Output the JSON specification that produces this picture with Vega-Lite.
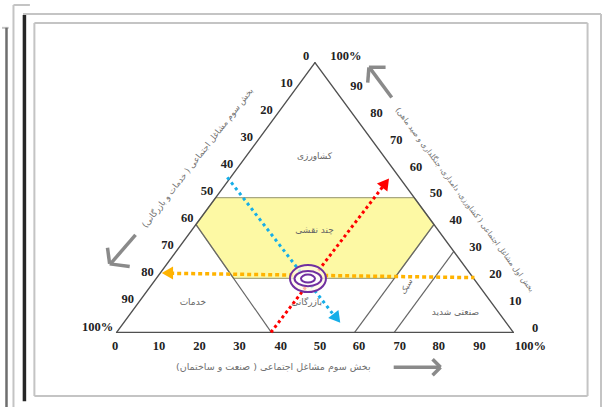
{
  "$schema": "https://vega.github.io/schema/vega-lite/v6.json",
  "width": 606,
  "height": 409,
  "autosize": {"type": "fit", "contains": "padding"},
  "padding": 0,
  "background": "white",
  "config": {"view": {"stroke": null}},
  "datasets": {
    "frameLight": [
      {"x": -23.6, "r": 118.08, "x2": 122.11, "r2": 118.08},
      {"x": 122.11, "r": 118.08, "x2": 122.11, "r2": -27.68},
      {"x": -20.73, "r": 114.76, "x2": 118.72, "r2": 114.76},
      {"x": -20.73, "r": 114.76, "x2": -20.73, "r2": -23.6},
      {"x": 118.72, "r": 114.76, "x2": 118.72, "r2": -23.6},
      {"x": -20.73, "r": -23.6, "x2": 118.72, "r2": -23.6},
      {"x": -26.0, "r": 121.4, "x2": -26.0, "r2": -27.68},
      {"x": -26.0, "r": 121.4, "x2": -21.86, "r2": 121.4},
      {"x": -28.9, "r": 112.92, "x2": -27.2, "r2": 112.92}
    ],
    "frameDark": [
      {"x": -23.24, "r": 117.71, "x2": -23.24, "r2": -25.5}
    ],
    "frameMid": [
      {"x": -27.76, "r": 112.92, "x2": -27.76, "r2": -27.68}
    ],
    "band": [
      {"r": 20, "x": 29.5, "x2": 70},
      {"r": 40, "x": 20, "x2": 80},
      {"r": 50, "x": 25, "x2": 75}
    ],
    "tri": [
      {"x": 0, "r": 0, "x2": 100, "r2": 0},
      {"x": 100, "r": 0, "x2": 50, "r2": 100},
      {"x": 50, "r": 100, "x2": 0, "r2": 0}
    ],
    "inner": [
      {"x": 39, "r": 0, "x2": 20, "r2": 40},
      {"x": 60, "r": 0, "x2": 80, "r2": 40},
      {"x": 70, "r": 0, "x2": 85, "r2": 30}
    ],
    "arrows": [
      {"x": 4.77, "r": 36.16, "x2": -1.5, "r2": 25.5},
      {"x": -1.76, "r": 25.4, "x2": 3.3, "r2": 24.4},
      {"x": -1.76, "r": 25.4, "x2": -2.3, "r2": 31.4},
      {"x": 69.35, "r": 87.08, "x2": 63.9, "r2": 97.9},
      {"x": 63.6, "r": 98.3, "x2": 67.8, "r2": 98.3},
      {"x": 63.6, "r": 98.3, "x2": 63.3, "r2": 92.6},
      {"x": 69.85, "r": -12.92, "x2": 81.66, "r2": -12.92},
      {"x": 81.66, "r": -12.92, "x2": 79.65, "r2": -9.96},
      {"x": 81.66, "r": -12.92, "x2": 79.65, "r2": -15.87}
    ],
    "ticks": [
      {"t": "0", "x": -0.4, "r": -5.17},
      {"t": "10", "x": 10.7, "r": -5.17},
      {"t": "20", "x": 20.9, "r": -5.17},
      {"t": "30", "x": 31.0, "r": -5.17},
      {"t": "40", "x": 41.4, "r": -5.17},
      {"t": "50", "x": 51.3, "r": -5.17},
      {"t": "60", "x": 61.1, "r": -5.17},
      {"t": "70", "x": 71.4, "r": -5.17},
      {"t": "80", "x": 81.2, "r": -5.17},
      {"t": "90", "x": 91.5, "r": -5.17},
      {"t": "100%", "x": 104.3, "r": -5.17},
      {"t": "0", "x": 105.5, "r": 1.5},
      {"t": "10", "x": 100.5, "r": 11.5},
      {"t": "20", "x": 95.5, "r": 21.5},
      {"t": "30", "x": 90.5, "r": 31.5},
      {"t": "40", "x": 85.5, "r": 41.5},
      {"t": "50", "x": 80.5, "r": 51.5},
      {"t": "60", "x": 75.5, "r": 61.5},
      {"t": "70", "x": 70.5, "r": 71.5},
      {"t": "80", "x": 65.5, "r": 81.5},
      {"t": "90", "x": 60.5, "r": 91.5},
      {"t": "100%", "x": 57.8, "r": 102.6},
      {"t": "0", "x": 47.8, "r": 102.3},
      {"t": "10", "x": 42.8, "r": 92.3},
      {"t": "20", "x": 37.8, "r": 82.3},
      {"t": "30", "x": 32.8, "r": 72.3},
      {"t": "40", "x": 27.8, "r": 62.3},
      {"t": "50", "x": 22.8, "r": 52.3},
      {"t": "60", "x": 17.8, "r": 42.3},
      {"t": "70", "x": 12.8, "r": 32.3},
      {"t": "80", "x": 7.8, "r": 22.3},
      {"t": "90", "x": 2.8, "r": 12.3},
      {"t": "100%", "x": -4.8, "r": 2.1}
    ],
    "regions": [
      {"t": "کشاورزی", "x": 49.9, "r": 65.4},
      {"t": "چند نقشی", "x": 49.9, "r": 37.8},
      {"t": "خدمات", "x": 19.2, "r": 11.3},
      {"t": "بازرگانی", "x": 47.9, "r": 11.1},
      {"t": "صنعتی شدید", "x": 85.4, "r": 7.6}
    ],
    "regionRot": [
      {"t": "سبک", "x": 73.2, "r": 16.9}
    ],
    "titleBottom": [
      {"t": "بخش سوم مشاغل اجتماعی ( صنعت و ساختمان)", "x": 39.5, "r": -12.9}
    ],
    "titleLeft": [
      {"t": "بخش سوم مشاغل اجتماعی ( خدمات و بازرگانی)", "x": 20.35, "r": 64.8}
    ],
    "titleRight": [
      {"t": "بخش اول مشاغل اجتماعی ( کشاورزی، دامداری، جنگلداری و صید ماهی)", "x": 87.7, "r": 49.1}
    ],
    "blue": [{"x": 27.9, "r": 57.5, "x2": 55.0, "r2": 5.9}],
    "red": [{"x": 38.9, "r": 0, "x2": 67.5, "r2": 54.8}],
    "orange": [{"x": 13.5, "r": 21.9, "x2": 90.2, "r2": 20.3}],
    "blueHead": [{"x": 55.5, "r": 5.2}],
    "redHead": [{"x": 67.8, "r": 55.4}],
    "orangeHead": [{"x": 12.8, "r": 22.0}],
    "center": [{"x": 48.24, "r": 19.93}]
  },
  "encoding": {
    "x": {"field": "x", "type": "quantitative", "scale": {"domain": [-28.894, 123.367], "nice": false, "zero": false}, "axis": null},
    "y": {"field": "r", "type": "quantitative", "scale": {"domain": [-27.675, 123.247], "nice": false, "zero": false}, "axis": null}
  },
  "layer": [
    {"data": {"name": "frameLight"}, "mark": {"type": "rule", "stroke": "#c4c4c4", "strokeWidth": 2}, "encoding": {"x2": {"field": "x2"}, "y2": {"field": "r2"}}},
    {"data": {"name": "frameMid"}, "mark": {"type": "rule", "stroke": "#6e6e6e", "strokeWidth": 2.5}, "encoding": {"x2": {"field": "x2"}, "y2": {"field": "r2"}}},
    {"data": {"name": "frameDark"}, "mark": {"type": "rule", "stroke": "#262626", "strokeWidth": 3.5}, "encoding": {"x2": {"field": "x2"}, "y2": {"field": "r2"}}},
    {"data": {"name": "band"}, "mark": {"type": "area", "orient": "horizontal", "fill": "#fdf9a4", "stroke": "#a8a882", "strokeWidth": 1.3, "opacity": 1}, "encoding": {"x2": {"field": "x2"}}},
    {"data": {"name": "inner"}, "mark": {"type": "rule", "stroke": "#666666", "strokeWidth": 1.2}, "encoding": {"x2": {"field": "x2"}, "y2": {"field": "r2"}}},
    {"data": {"name": "tri"}, "mark": {"type": "rule", "stroke": "#505050", "strokeWidth": 1.4, "strokeCap": "round"}, "encoding": {"x2": {"field": "x2"}, "y2": {"field": "r2"}}},
    {"data": {"name": "regions"}, "mark": {"type": "text", "font": "DejaVu Sans", "fontSize": 9, "fill": "#666666", "align": "center", "baseline": "middle"}, "encoding": {"text": {"field": "t"}}},
    {"data": {"name": "regionRot"}, "mark": {"type": "text", "font": "DejaVu Sans", "fontSize": 8, "fill": "#666666", "align": "center", "baseline": "middle", "angle": 300}, "encoding": {"text": {"field": "t"}}},
    {"data": {"name": "ticks"}, "mark": {"type": "text", "font": "Liberation Serif", "fontWeight": "bold", "fontSize": 12.5, "fill": "#222222", "align": "center", "baseline": "middle"}, "encoding": {"text": {"field": "t"}}},
    {"data": {"name": "titleBottom"}, "mark": {"type": "text", "font": "DejaVu Sans", "fontSize": 9.5, "fill": "#707070", "align": "center", "baseline": "middle"}, "encoding": {"text": {"field": "t"}}},
    {"data": {"name": "titleLeft"}, "mark": {"type": "text", "font": "DejaVu Sans", "fontSize": 8.5, "fill": "#707070", "align": "center", "baseline": "middle", "angle": 308}, "encoding": {"text": {"field": "t"}}},
    {"data": {"name": "titleRight"}, "mark": {"type": "text", "font": "DejaVu Sans", "fontSize": 7.5, "fill": "#707070", "align": "center", "baseline": "middle", "angle": 53.5}, "encoding": {"text": {"field": "t"}}},
    {"data": {"name": "arrows"}, "mark": {"type": "rule", "stroke": "#8a8a8a", "strokeWidth": 3.5, "strokeCap": "butt"}, "encoding": {"x2": {"field": "x2"}, "y2": {"field": "r2"}}},
    {"data": {"name": "blue"}, "mark": {"type": "rule", "stroke": "#16aee8", "strokeWidth": 3, "strokeDash": [3, 3.5]}, "encoding": {"x2": {"field": "x2"}, "y2": {"field": "r2"}}},
    {"data": {"name": "red"}, "mark": {"type": "rule", "stroke": "#ff0000", "strokeWidth": 3, "strokeDash": [3, 3]}, "encoding": {"x2": {"field": "x2"}, "y2": {"field": "r2"}}},
    {"data": {"name": "orange"}, "mark": {"type": "rule", "stroke": "#ffb300", "strokeWidth": 3.5, "strokeDash": [4, 3]}, "encoding": {"x2": {"field": "x2"}, "y2": {"field": "r2"}}},
    {"data": {"name": "blueHead"}, "mark": {"type": "point", "shape": "triangle-right", "filled": true, "fill": "#16aee8", "size": 170, "opacity": 1, "angle": 52}},
    {"data": {"name": "redHead"}, "mark": {"type": "point", "shape": "triangle-right", "filled": true, "fill": "#ff0000", "size": 170, "opacity": 1, "angle": 307}},
    {"data": {"name": "orangeHead"}, "mark": {"type": "point", "shape": "triangle-right", "filled": true, "fill": "#ffb300", "size": 170, "opacity": 1, "angle": 180}},
    {"data": {"name": "center"}, "mark": {"type": "point", "shape": "M-1,0A1,0.75,0,1,0,1,0A1,0.75,0,1,0,-1,0Z", "size": 1296, "filled": false, "fill": "#fffbe6", "fillOpacity": 0.7, "stroke": "#7030a0", "strokeWidth": 2, "opacity": 1}},
    {"data": {"name": "center"}, "mark": {"type": "point", "shape": "M-1,0A1,0.556,0,1,0,1,0A1,0.556,0,1,0,-1,0Z", "size": 729, "filled": false, "fill": "white", "fillOpacity": 0.9, "stroke": "#7030a0", "strokeWidth": 2, "opacity": 1}},
    {"data": {"name": "center"}, "mark": {"type": "point", "shape": "M-1,0A1,0.571,0,1,0,1,0A1,0.571,0,1,0,-1,0Z", "size": 196, "filled": false, "fill": "white", "stroke": "#7030a0", "strokeWidth": 2, "opacity": 1}}
  ]
}
